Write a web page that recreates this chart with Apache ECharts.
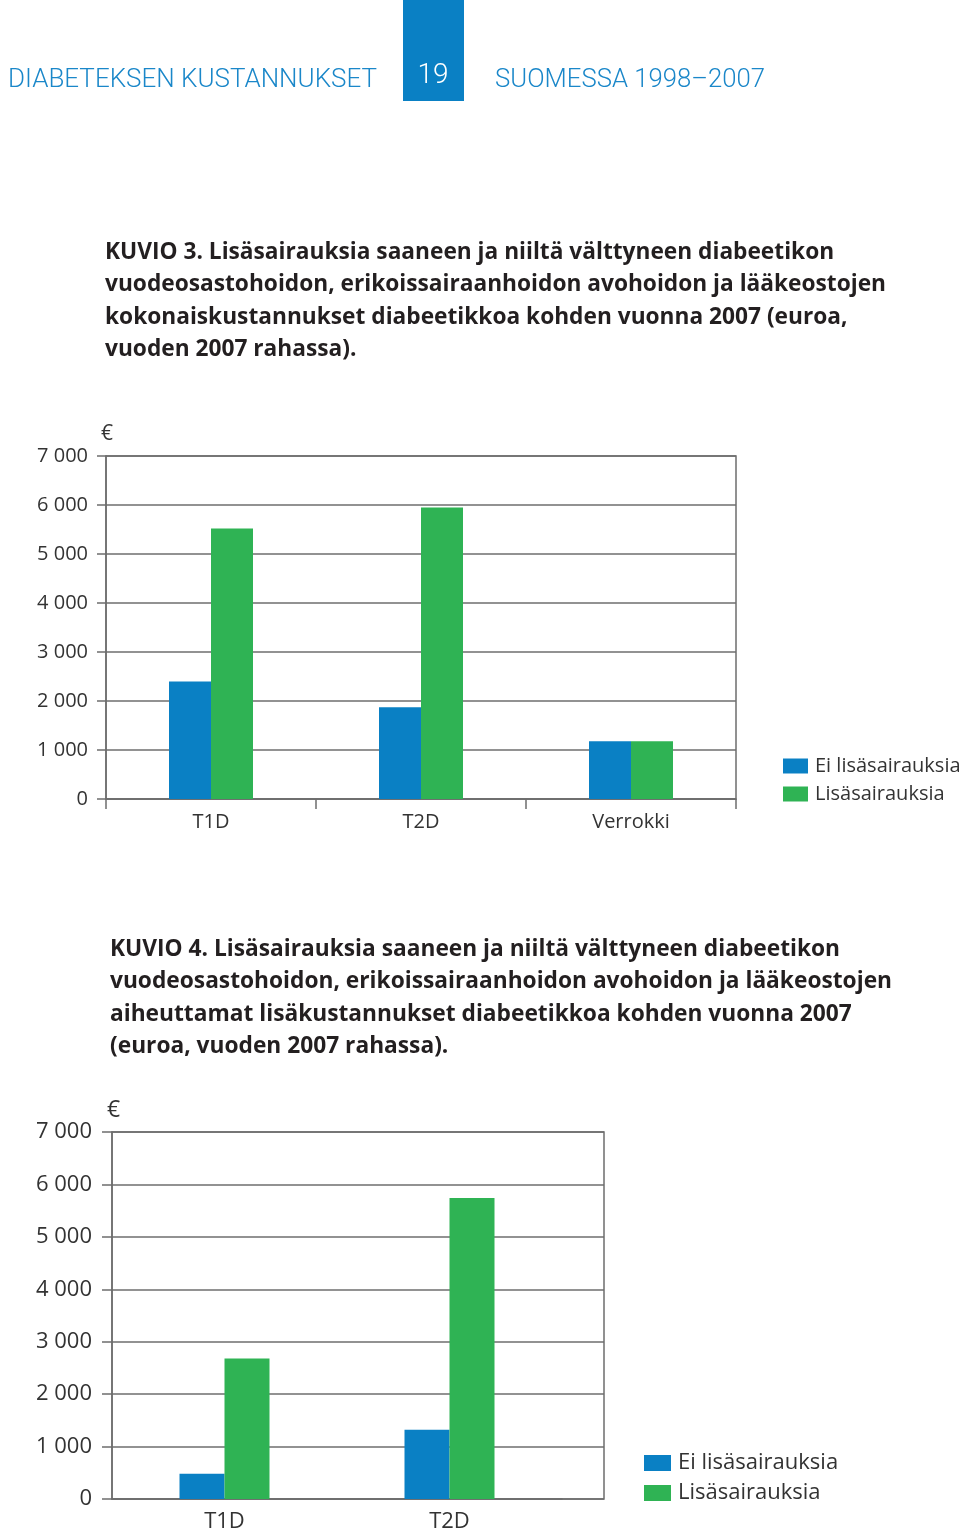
<!DOCTYPE html>
<html><head><meta charset="utf-8">
<script src="https://cdn.jsdelivr.net/npm/echarts@6/dist/echarts.min.js"></script>
<style>html,body{margin:0;padding:0;background:#fff}#c{width:960px;height:1534px}</style>
</head><body><div id="c"></div>
<script>
// ---- data ----
const seriesNames = ['Ei lisäsairauksia', 'Lisäsairauksia'];
const cats1 = ['T1D', 'T2D', 'Verrokki'];
const noComp1 = [2400, 1870, 1180];
const comp1 = [5520, 5950, 1180];
const cats2 = ['T1D', 'T2D'];
const noComp2 = [480, 1320];
const comp2 = [2680, 5740];
const yTicks = [0, 1000, 2000, 3000, 4000, 5000, 6000, 7000];

const headerLeft = 'DIABETEKSEN KUSTANNUKSET';
const headerPage = '19';
const headerRight = 'SUOMESSA 1998–2007';
const title1 = ['KUVIO 3. Lisäsairauksia saaneen ja niiltä välttyneen diabeetikon',
  'vuodeosastohoidon, erikoissairaanhoidon avohoidon ja lääkeostojen',
  'kokonaiskustannukset diabeetikkoa kohden vuonna 2007 (euroa,',
  'vuoden 2007 rahassa).'];
const title2 = ['KUVIO 4. Lisäsairauksia saaneen ja niiltä välttyneen diabeetikon',
  'vuodeosastohoidon, erikoissairaanhoidon avohoidon ja lääkeostojen',
  'aiheuttamat lisäkustannukset diabeetikkoa kohden vuonna 2007',
  '(euroa, vuoden 2007 rahassa).'];

const BLUE = '#0a80c4', GREEN = '#2fb354', GRID = '#6e6e6e', TXT = '#333333';
const LABEL_FONT = '"Open Sans", "Noto Sans", sans-serif';

const cv = document.createElement('canvas').getContext('2d');
function measure(t, font) { cv.font = font; return cv.measureText(t).width; }

const TFONT = 'bold 24px "Open Sans", "Noto Sans", sans-serif';
function titleEls(lines, x, y0, target) {
  const s = target / measure(lines[1], TFONT);
  return lines.map((t, i) => ({
    type: 'text', x: x, y: y0 + i * 32.5, scaleX: s,
    style: { text: t, font: TFONT, fill: '#231f20', verticalAlign: 'middle', align: 'left' }
  }));
}
const HFONT = '300 26px Roboto, "Open Sans", sans-serif';
const sH1 = 369 / measure(headerLeft, HFONT);
const sH2 = 270 / measure(headerRight, HFONT);

const fmt = v => String(v).replace(/\B(?=(\d{3})+(?!\d))/g, ' ');

function yAxis(gridIndex, fs, margin, tickLen, nameX, split) {
  return {
    type: 'value', gridIndex, min: 0, max: 7000, interval: 1000,
    name: '€', nameLocation: 'end', nameGap: 22,
    nameTextStyle: { fontFamily: LABEL_FONT, fontSize: fs + 1, color: TXT, align: 'center', verticalAlign: 'middle', padding: [0, 0, 0, nameX] },
    axisLine: { show: true, lineStyle: { color: GRID, width: 1.5 } },
    axisTick: { show: true, length: tickLen, lineStyle: { color: GRID, width: 1.5 } },
    axisLabel: { fontFamily: LABEL_FONT, fontSize: fs, color: TXT, margin, formatter: fmt },
    splitLine: { show: split, lineStyle: { color: GRID, width: 1.5 } }
  };
}

const option = {
  animation: false,
  backgroundColor: '#fff',
  graphic: [
    { type: 'rect', shape: { x: 403, y: 0, width: 61, height: 101 }, style: { fill: '#0a80c4' } },
    { type: 'text', x: 433, y: 76, style: { text: headerPage, font: '300 28px Roboto, sans-serif', fill: '#fff', align: 'center', verticalAlign: 'middle' } },
    { type: 'text', x: 8, y: 80, scaleX: sH1, style: { text: headerLeft, font: HFONT, fill: '#1a87c9', align: 'left', verticalAlign: 'middle' } },
    { type: 'text', x: 495, y: 80, scaleX: sH2, style: { text: headerRight, font: HFONT, fill: '#1a87c9', align: 'left', verticalAlign: 'middle' } },
    ...titleEls(title1, 105, 252, 781),
    ...titleEls(title2, 110, 949, 782)
  ],
  legend: [
    { data: seriesNames, orient: 'vertical', left: 778, top: 751, itemWidth: 25, itemHeight: 15, itemGap: 8,
      icon: 'rect', textStyle: { fontFamily: LABEL_FONT, fontSize: 20, color: TXT, padding: [0, 0, 0, 2] } },
    { data: seriesNames, orient: 'vertical', left: 639, top: 1447, itemWidth: 27, itemHeight: 16, itemGap: 8,
      icon: 'rect', textStyle: { fontFamily: LABEL_FONT, fontSize: 22, color: TXT, padding: [0, 0, 0, 2] } }
  ],
  grid: [
    { left: 106, top: 456, width: 630, height: 343, show: true, borderColor: GRID, borderWidth: 1.5, backgroundColor: 'transparent' },
    { left: 112, top: 1132, width: 450, height: 367 },
    { left: 112, top: 1132, width: 492, height: 367, show: true, borderColor: GRID, borderWidth: 1.5, backgroundColor: 'transparent' }
  ],
  xAxis: [
    { type: 'category', gridIndex: 0, data: cats1,
      axisLine: { lineStyle: { color: GRID, width: 1.5 } },
      axisTick: { show: true, length: 10, lineStyle: { color: GRID, width: 1.5 } },
      axisLabel: { fontFamily: LABEL_FONT, fontSize: 20, color: TXT, margin: 13 } },
    { type: 'category', gridIndex: 1, data: cats2,
      axisLine: { lineStyle: { color: GRID, width: 1.5 } },
      axisTick: { show: false },
      axisLabel: { fontFamily: LABEL_FONT, fontSize: 22, color: TXT, margin: 12 } },
    { type: 'value', gridIndex: 2, show: false }
  ],
  yAxis: [
    yAxis(0, 20, 18, 9, 2, true),
    yAxis(1, 22, 20, 10, 3, false),
    { type: 'value', gridIndex: 2, min: 0, max: 7000, interval: 1000,
      axisLine: { show: false }, axisTick: { show: false }, axisLabel: { show: false },
      splitLine: { show: true, lineStyle: { color: GRID, width: 1.5 } } }
  ],
  series: [
    { name: seriesNames[0], type: 'bar', xAxisIndex: 0, yAxisIndex: 0, data: noComp1, barWidth: '20%', barGap: '0%', itemStyle: { color: BLUE } },
    { name: seriesNames[1], type: 'bar', xAxisIndex: 0, yAxisIndex: 0, data: comp1, barWidth: '20%', barGap: '0%', itemStyle: { color: GREEN } },
    { name: seriesNames[0], type: 'bar', xAxisIndex: 1, yAxisIndex: 1, data: noComp2, barWidth: '20%', barGap: '0%', itemStyle: { color: BLUE } },
    { name: seriesNames[1], type: 'bar', xAxisIndex: 1, yAxisIndex: 1, data: comp2, barWidth: '20%', barGap: '0%', itemStyle: { color: GREEN }, z: 3 }
  ]
};
const chart = echarts.init(document.getElementById('c'), null, { renderer: 'canvas' });
chart.setOption(option);
</script></body></html>
